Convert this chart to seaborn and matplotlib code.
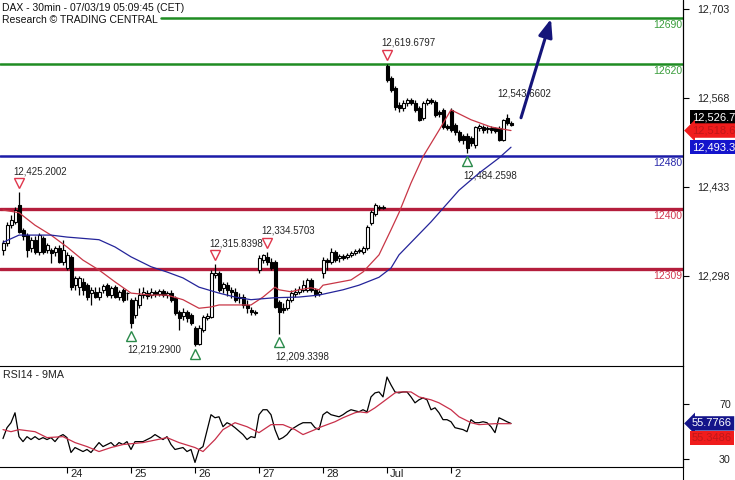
import numpy as np
import pandas as pd
import matplotlib
matplotlib.use('Agg')
import matplotlib.pyplot as plt
import matplotlib.transforms as mtransforms
from matplotlib.lines import Line2D
import seaborn as sns

# x axis = 30min bar number, 16 bars per session, first bar = Fri 21 Jun
day_ticks = [16, 32, 48, 64, 80, 96, 112]
day_labels = ['24', '25', '26', '27', '28', 'Jul', '2']

opens = [
    12337, 12348, 12375, 12380, 12406, 12368, 12360, 12340, 12353, 12334, 12356, 12337, 12337, 12334, 12340, 12319,  # 21
    12310, 12327, 12284, 12281, 12289, 12284, 12272, 12274, 12266, 12277, 12284, 12269, 12281, 12266, 12277, 12272,  # 24
    12262, 12239, 12254, 12269, 12272, 12269, 12274, 12271, 12275, 12269, 12272, 12265, 12243, 12237, 12243, 12239,  # 25
    12219, 12195, 12216, 12234, 12236, 12299, 12302, 12280, 12284, 12277, 12274, 12265, 12266, 12254, 12246, 12243,  # 26
    12307, 12322, 12327, 12319, 12319, 12258, 12249, 12249, 12262, 12271, 12274, 12277, 12277, 12292, 12277, 12271,  # 27
    12302, 12322, 12319, 12334, 12325, 12328, 12327, 12330, 12333, 12336, 12334, 12340, 12378, 12392, 12403, 12401,  # 28
    12617, 12598, 12583, 12557, 12553, 12560, 12565, 12560, 12553, 12538, 12560, 12565, 12562, 12547, 12550, 12526,  # 1 Jul
    12550, 12527, 12516, 12510, 12510, 12507, 12497, 12523, 12524, 12521, 12523, 12523, 12523, 12504, 12538, 12530,  # 2 Jul
]
highs = [
    12353, 12380, 12391, 12403, 12425.2002, 12371, 12363, 12357, 12359, 12363, 12359, 12348, 12340, 12344, 12345, 12353,
    12334, 12330, 12298, 12298, 12295, 12287, 12281, 12281, 12281, 12286, 12287, 12283, 12284, 12277, 12280, 12274,
    12265, 12266, 12280, 12281, 12277, 12280, 12277, 12278, 12278, 12275, 12277, 12268, 12246, 12249, 12246, 12242,
    12222, 12224, 12239, 12242, 12307, 12315.8398, 12305, 12289, 12289, 12281, 12280, 12272, 12271, 12262, 12251, 12246,
    12330, 12331, 12334.5703, 12325, 12322, 12262, 12257, 12265, 12277, 12280, 12283, 12292, 12295, 12295, 12280, 12277,
    12327, 12325, 12340, 12337, 12331, 12331, 12333, 12336, 12339, 12340, 12344, 12375, 12398, 12409, 12406, 12406,
    12619.6797, 12601, 12586, 12562, 12565, 12568, 12568, 12565, 12556, 12563, 12568, 12568, 12565, 12550, 12553, 12529,
    12553, 12530, 12519, 12513, 12515, 12510, 12526, 12529, 12527, 12526, 12526, 12524, 12526, 12536, 12543.6602, 12533,
]
lows = [
    12330, 12344, 12371, 12377, 12363, 12353, 12327, 12334, 12331, 12330, 12331, 12333, 12318, 12328, 12318, 12315,
    12307, 12277, 12277, 12269, 12269, 12262, 12254, 12265, 12262, 12272, 12266, 12265, 12265, 12262, 12259, 12262,
    12219.29, 12234, 12249, 12265, 12263, 12265, 12266, 12268, 12266, 12265, 12259, 12239, 12216, 12231, 12228, 12224,
    12192, 12194, 12213, 12231, 12234, 12295, 12274, 12272, 12268, 12265, 12259, 12257, 12249, 12242, 12239, 12239,
    12302, 12318, 12315, 12307, 12249, 12209.3398, 12242, 12246, 12259, 12266, 12271, 12274, 12274, 12274, 12266, 12268,
    12295, 12307, 12316, 12319, 12319, 12322, 12324, 12327, 12330, 12333, 12331, 12337, 12375, 12389, 12398, 12400,
    12592, 12577, 12550, 12547, 12548, 12556, 12557, 12547, 12533, 12535, 12557, 12559, 12539, 12539, 12521, 12519,
    12516, 12512, 12501, 12498, 12484.2598, 12495, 12492, 12518, 12515, 12515, 12515, 12515, 12503, 12503, 12527, 12526,
]
closes = [
    12348, 12375, 12383, 12398, 12365, 12359, 12337, 12353, 12334, 12360, 12334, 12345, 12333, 12340, 12319, 12337,
    12330, 12281, 12295, 12295, 12277, 12266, 12277, 12266, 12274, 12283, 12269, 12280, 12266, 12274, 12262, 12272,
    12227, 12262, 12269, 12274, 12268, 12274, 12271, 12275, 12269, 12272, 12262, 12242, 12234, 12243, 12234, 12227,
    12195, 12219, 12236, 12237, 12302, 12302, 12277, 12286, 12277, 12274, 12262, 12266, 12254, 12249, 12243, 12242,
    12325, 12330, 12319, 12310, 12251, 12243, 12246, 12262, 12272, 12274, 12278, 12284, 12292, 12277, 12271, 12274,
    12322, 12319, 12334, 12322, 12328, 12325, 12330, 12333, 12336, 12337, 12340, 12372, 12395, 12406, 12401, 12403,
    12595, 12580, 12554, 12553, 12560, 12565, 12560, 12550, 12535, 12560, 12565, 12562, 12542, 12544, 12524, 12523,
    12519, 12516, 12504, 12504, 12492, 12500, 12524, 12526, 12519, 12523, 12519, 12518, 12504, 12535, 12530, 12526.7,
]

# moving averages (bar, price)
ma_fast_bar = [0, 4, 8, 12, 16, 20, 24, 28, 32, 37, 41, 45, 49, 52, 54, 58, 62, 65, 68, 69, 72, 74, 77, 79, 80,
               87, 90, 94, 97, 99, 102, 105, 109, 112, 117, 122, 127]
ma_fast = [12398, 12394, 12375, 12360, 12342, 12322, 12307, 12289, 12272, 12269, 12269, 12262, 12249, 12251, 12254,
           12254, 12254, 12266, 12281, 12277, 12274, 12277, 12280, 12277, 12284, 12292, 12304, 12330, 12368, 12394,
           12439, 12479, 12519, 12550, 12535, 12524, 12518.6]
ma_slow_bar = [0, 4, 8, 12, 16, 20, 24, 28, 32, 37, 41, 45, 49, 54, 58, 62, 68, 74, 79, 85, 89, 94, 97, 99, 107,
               114, 119, 124, 127]
ma_slow = [12349, 12360, 12360, 12360, 12357, 12355, 12353, 12342, 12327, 12312, 12304, 12295, 12281, 12272, 12266,
           12262, 12265, 12266, 12269, 12277, 12284, 12296, 12310, 12330, 12380, 12428, 12454, 12477, 12493.3]

levels = [12690, 12620, 12480, 12400, 12309]
level_kind = ['res', 'res', 'pivot', 'sup', 'sup']

peak_bars = [4, 53, 66, 96]
trough_bars = [32, 48, 69, 116]
trough_labelled = [True, False, True, True]
note_bar = 126

# target arrow (bar, price)
target_from = (129.5, 12538)
target_to = (137, 12688)

rsi_bar = [0, 1, 2, 3, 4, 5, 6, 7, 8, 9, 10, 11, 12, 13, 14, 15, 16, 17, 18, 20, 21, 22, 24, 25, 27, 28, 29, 30, 31,
           32, 33, 35, 37, 38, 40, 41, 42, 43, 45, 46, 47, 48, 49, 50, 52, 53, 54, 55, 56, 57, 58, 60, 61, 62, 63,
           64, 65, 66, 67, 68, 69, 70, 71, 72, 74, 75, 77, 78, 79, 80, 81, 82, 84, 85, 86, 87, 89, 90, 91, 92, 93,
           94, 95, 96, 97, 98, 99, 100, 101, 102, 103, 104, 105, 106, 107, 108, 109, 110, 111, 112, 113, 115, 116,
           117, 118, 119, 120, 121, 122, 123, 124, 125, 126, 127]
rsi = [44.8, 52.7, 56.3, 63.5, 46.2, 42.6, 46.2, 44.1, 46.2, 44.1, 45.5, 44.1, 45.5, 42.6, 46.2, 47.7, 45.5, 34.7,
       38.3, 35.4, 36.9, 34.7, 41.9, 39.0, 41.9, 39.0, 41.9, 40.5, 42.6, 36.9, 42.6, 42.6, 45.5, 47.7, 44.1, 46.2,
       40.5, 36.9, 38.3, 35.4, 36.9, 27.5, 36.9, 39.0, 62.1, 59.9, 60.6, 53.4, 56.3, 54.9, 52.7, 47.7, 44.1, 46.2,
       45.5, 62.1, 65.7, 65.7, 62.1, 51.3, 44.1, 45.5, 47.7, 51.3, 54.9, 56.3, 56.3, 52.7, 51.3, 62.1, 64.2, 62.1,
       60.6, 62.1, 64.2, 65.7, 64.2, 65.7, 64.2, 75.0, 77.9, 78.6, 75.0, 89.4, 83.7, 78.6, 77.9, 78.6, 78.6, 75.0,
       70.7, 72.9, 74.3, 72.9, 65.7, 67.1, 63.5, 58.5, 58.5, 57.0, 52.7, 51.3, 49.8, 58.5, 56.3, 56.3, 57.0, 56.3,
       53.4, 49.1, 59.9, 58.5, 57.0, 55.7766]
rsi_ma_bar = [0, 2, 4, 8, 11, 15, 18, 21, 24, 27, 30, 35, 41, 44, 48, 50, 53, 55, 58, 61, 64, 67, 70, 73, 75, 78, 79,
              83, 85, 88, 89, 91, 93, 95, 98, 99, 102, 104, 107, 109, 112, 114, 117, 119, 123, 127]
rsi_ma = [51.3, 49.8, 51.3, 49.8, 45.5, 46.2, 41.9, 39.0, 35.4, 38.3, 40.5, 41.9, 45.5, 41.9, 38.3, 35.4, 44.1, 51.3,
          56.3, 53.4, 49.1, 54.9, 54.9, 51.3, 47.7, 51.3, 52.7, 57.0, 59.9, 63.5, 64.2, 63.5, 67.1, 71.4, 77.9, 78.6,
          78.6, 75.0, 72.9, 70.7, 65.7, 60.6, 56.3, 54.9, 55.6, 55.6]
rsi_ma_last = 55.3486

price_ticks = [12298, 12433, 12568, 12703]
rsi_ticks = [30, 70]

# ---------------------------------------------------------------
sns.set_theme(style='white')
plt.rcParams['font.family'] = ['Liberation Sans', 'DejaVu Sans']

col = {'res': '#1f8c22', 'pivot': '#1c1ca8', 'sup': '#b41e3c'}
col_txt = {'res': '#3a9d3c', 'pivot': '#2828aa', 'sup': '#d23a50'}

df = pd.DataFrame({'bar': np.arange(len(closes)), 'open': opens, 'high': highs,
                   'low': lows, 'close': closes})
up = df['close'] >= df['open']

W, H = 735, 480
fig = plt.figure(figsize=(W / 100, H / 100), dpi=100)
ax = fig.add_axes([0, 114 / H, 683 / W, 366 / H])
ax_rsi = fig.add_axes([0, 13 / H, 683 / W, 101 / H])
xlim = (-0.75, 170)

# candles
ax.vlines(df['bar'], df['low'], df['high'], color='black', lw=0.9, zorder=3)
ax.bar(df['bar'], df['close'] - df['open'], bottom=df['open'], width=0.75,
       color=np.where(up, 'white', 'black'), edgecolor='black', linewidth=0.8, zorder=4)

sns.lineplot(x=ma_fast_bar, y=ma_fast, ax=ax, color='#c83646', lw=0.9, zorder=5)
sns.lineplot(x=ma_slow_bar, y=ma_slow, ax=ax, color='#24249a', lw=0.9, zorder=5)

# support / resistance levels
ytrans = mtransforms.blended_transform_factory(ax.transAxes, ax.transData)
for v, k in zip(levels, level_kind):
    xmin = 161 / 683 if v == 12690 else 0
    lw = 2.4 if k == 'sup' else 1.8
    ax.axhline(v, xmin=xmin, xmax=1, color=col[k], lw=lw, zorder=2)
    ax.text(1 - 1 / 683, v, str(v), color=col_txt[k], fontsize=7.5, ha='right', va='top',
            transform=mtransforms.offset_copy(ytrans, fig=fig, y=-2, units='dots'))

# swing highs / lows
up_off = mtransforms.offset_copy(ax.transData, fig=fig, y=9, units='dots')
dn_off = mtransforms.offset_copy(ax.transData, fig=fig, y=-8, units='dots')
for b in peak_bars:
    ax.plot(b, highs[b], marker='v', ms=7, mfc='white', mec='#e0364c', mew=1.0, ls='none',
            transform=up_off, zorder=6)
    ax.text(b, highs[b], f'{highs[b]:,.4f}', fontsize=7, ha='left', va='center',
            transform=mtransforms.offset_copy(ax.transData, fig=fig, x=-6, y=21, units='dots'))
for b, lab in zip(trough_bars, trough_labelled):
    ax.plot(b, lows[b], marker='^', ms=7, mfc='white', mec='#2a8a4a', mew=1.0, ls='none',
            transform=dn_off, zorder=6)
    if lab:
        ax.text(b, lows[b], f'{lows[b]:,.4f}', fontsize=7, ha='left', va='center',
                transform=mtransforms.offset_copy(ax.transData, fig=fig, x=-4, y=-22, units='dots'))
ax.text(note_bar, highs[note_bar], f'{highs[note_bar]:,.4f}', fontsize=7, ha='left', va='center',
        transform=mtransforms.offset_copy(ax.transData, fig=fig, x=-10, y=21, units='dots'))

ax.annotate('', xy=target_to, xytext=target_from,
            arrowprops=dict(arrowstyle='-|>,head_length=0.9,head_width=0.35', color='#15157a',
                            lw=2.2, shrinkA=0, shrinkB=0), zorder=7)

ax.set_xlim(*xlim)
ax.set_ylim(12161.4, 12716.65)
ax.set_xticks([])
ax.yaxis.tick_right()
ax.set_yticks(price_ticks)
ax.set_yticklabels([f'{t:,}' for t in price_ticks])
ax.tick_params(axis='y', right=True, direction='out', length=4, width=0.8, color='black',
               pad=6, labelsize=7.7, labelcolor='#222222')
for s in ['left', 'top', 'bottom']:
    ax.spines[s].set_visible(False)
ax.spines['right'].set_color('black')
ax.spines['right'].set_linewidth(0.8)
ax.set_xlabel('')
ax.set_ylabel('')

# last value tags
tag_x = mtransforms.offset_copy(ytrans, fig=fig, x=9, y=0, units='dots')
ax.text(1, closes[-1], f'{closes[-1]:,.1f}', color='white', fontsize=8, ha='left', va='center',
        transform=mtransforms.offset_copy(ytrans, fig=fig, x=9, y=8, units='dots'), clip_on=False,
        bbox=dict(boxstyle='square,pad=0.2', fc='black', ec='none'))
ax.text(1, ma_fast[-1], f'{ma_fast[-1]:,.1f}', color='#c01818', fontsize=8, ha='left', va='center',
        transform=tag_x, clip_on=False,
        bbox=dict(boxstyle='larrow,pad=0.2', fc='#f01c1c', ec='none'))
ax.text(1, ma_slow[-1], f'{ma_slow[-1]:,.1f}', color='white', fontsize=8, ha='left', va='center',
        transform=tag_x, clip_on=False,
        bbox=dict(boxstyle='square,pad=0.2', fc='#1414cc', ec='none'))

fig.text(2 / W, 1 - 8 / H, 'DAX - 30min - 07/03/19 05:09:45 (CET)', fontsize=7.5, va='center', color='#111111')
fig.text(2 / W, 1 - 20 / H, 'Research \u00a9 TRADING CENTRAL', fontsize=7.5, va='center', color='#111111')

# RSI panel
sns.lineplot(x=rsi_bar, y=rsi, ax=ax_rsi, color='black', lw=0.9)
sns.lineplot(x=rsi_ma_bar, y=rsi_ma, ax=ax_rsi, color='#c8304a', lw=0.9)
ax_rsi.set_xlim(*xlim)
ax_rsi.set_ylim(24.2, 97.4)
ax_rsi.yaxis.tick_right()
ax_rsi.set_yticks(rsi_ticks)
ax_rsi.set_yticklabels([str(t) for t in rsi_ticks])
ax_rsi.tick_params(axis='y', right=True, direction='out', length=4, width=0.8, color='black',
                   pad=22, labelsize=7.7, labelcolor='#222222')
ax_rsi.set_xticks(day_ticks)
ax_rsi.set_xticklabels([''] * len(day_ticks))
ax_rsi.tick_params(axis='x', bottom=True, direction='out', length=4, width=0.8, color='black')
xtrans = mtransforms.blended_transform_factory(ax_rsi.transData, ax_rsi.transAxes)
for t, lab in zip(day_ticks, day_labels):
    ax_rsi.text(t, 0, lab, fontsize=8, ha='left', va='top', color='#222222', clip_on=False,
                transform=mtransforms.offset_copy(xtrans, fig=fig, x=3, y=-2, units='dots'))
ax_rsi.spines['left'].set_visible(False)
for s in ['top', 'bottom', 'right']:
    ax_rsi.spines[s].set_color('black')
    ax_rsi.spines[s].set_linewidth(0.8)
ax_rsi.set_xlabel('')
ax_rsi.set_ylabel('')
ax_rsi.text(3 / 683, 1, 'RSI14 - 9MA', fontsize=7.7, ha='left', va='top', color='#222222',
            transform=mtransforms.offset_copy(ax_rsi.transAxes, fig=fig, y=-4, units='dots'))

rtrans = mtransforms.blended_transform_factory(ax_rsi.transAxes, ax_rsi.transData)
ax_rsi.text(1, rsi[-1], f'{rsi[-1]:.4f}', color='white', fontsize=8, ha='left', va='center',
            transform=mtransforms.offset_copy(rtrans, fig=fig, x=9, units='dots'), clip_on=False,
            bbox=dict(boxstyle='larrow,pad=0.2', fc='#14148a', ec='none'))
ax_rsi.text(1, rsi_ma_last, f'{rsi_ma_last:.4f}', color='#c01818', fontsize=8, ha='left', va='center',
            transform=mtransforms.offset_copy(rtrans, fig=fig, x=9, y=-14, units='dots'), clip_on=False,
            bbox=dict(boxstyle='square,pad=0.2', fc='#f01c1c', ec='none'))

fig.add_artist(Line2D([683 / W, 683 / W], [0, 1], transform=fig.transFigure, color='black', lw=0.8))

fig.savefig('out.png', dpi=100)
